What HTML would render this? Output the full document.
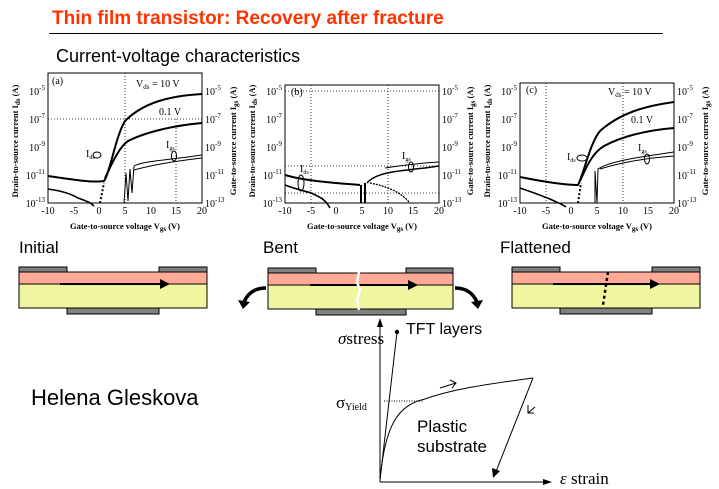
<!DOCTYPE html>
<html><head><meta charset="utf-8"><style>
html,body{margin:0;padding:0;background:#fff;}
svg{display:block;}
.t{font-family:"Liberation Serif",serif;font-size:10px;}
.ax{font-family:"Liberation Serif",serif;font-size:8.5px;font-weight:bold;}
.s{font-family:"Liberation Sans",sans-serif;}
</style></head><body>
<svg width="719" height="489" viewBox="0 0 719 489" xmlns="http://www.w3.org/2000/svg">
<defs>
<g id="ticks">
  <g class="t" text-anchor="end">
    <text x="-3" y="134">10<tspan dy="-5" font-size="7">-13</tspan></text>
    <text x="-3" y="106">10<tspan dy="-5" font-size="7">-11</tspan></text>
    <text x="-3" y="78">10<tspan dy="-5" font-size="7">-9</tspan></text>
    <text x="-3" y="50">10<tspan dy="-5" font-size="7">-7</tspan></text>
    <text x="-3" y="22">10<tspan dy="-5" font-size="7">-5</tspan></text>
  </g>
  <g class="t">
    <text x="157" y="134">10<tspan dy="-5" font-size="7">-13</tspan></text>
    <text x="157" y="106">10<tspan dy="-5" font-size="7">-11</tspan></text>
    <text x="157" y="78">10<tspan dy="-5" font-size="7">-9</tspan></text>
    <text x="157" y="50">10<tspan dy="-5" font-size="7">-7</tspan></text>
    <text x="157" y="22">10<tspan dy="-5" font-size="7">-5</tspan></text>
  </g>
  <g class="t" text-anchor="middle">
    <text x="0" y="141">-10</text><text x="26" y="141">-5</text><text x="51" y="141">0</text>
    <text x="77" y="141">5</text><text x="103" y="141">10</text><text x="128" y="141">15</text><text x="154" y="141">20</text>
  </g>
  <text class="ax" x="77" y="156" text-anchor="middle">Gate-to-source voltage  V<tspan font-size="7" dy="2">gs</tspan><tspan dy="-2"> (V)</tspan></text>
  <text class="ax" transform="translate(-30,68) rotate(-90)" text-anchor="middle">Drain-to-source current  I<tspan font-size="7" dy="2">ds</tspan><tspan dy="-2"> (A)</tspan></text>
  <text class="ax" transform="translate(188,68) rotate(-90)" text-anchor="middle">Gate-to-source current  I<tspan font-size="7" dy="2">gs</tspan><tspan dy="-2"> (A)</tspan></text>
</g>
</defs>

<!-- Title -->
<text x="52" y="24" class="s" font-size="19" font-weight="bold" fill="#ff3300">Thin film transistor: Recovery after fracture</text>
<line x1="49" y1="33.5" x2="663" y2="33.5" stroke="#000" stroke-width="1"/>
<text x="56" y="62" class="s" font-size="18">Current-voltage characteristics</text>

<!-- Plot a -->
<g transform="translate(48,73)">
  <rect x="0" y="0" width="154" height="130" fill="none" stroke="#000" stroke-width="1"/>
  <g stroke="#000" stroke-dasharray="1,2" stroke-width="0.8">
    <line x1="77" y1="0" x2="77" y2="130"/><line x1="128" y1="46" x2="128" y2="130"/><line x1="0" y1="46" x2="154" y2="46"/>
  </g>
  <use href="#ticks"/>
  <text class="t" x="4" y="11">(a)</text>
  <text class="t" x="88" y="14">V<tspan font-size="7" dy="2">ds</tspan><tspan dy="-2"> = 10 V</tspan></text>
  <text class="t" x="111" y="42">0.1 V</text>
  <g fill="none" stroke="#000" stroke-width="2">
    <path d="M0,103 C20,106 45,110 56,108 C62,100 68,62 77,48 C95,30 120,23 154,21"/>
    <path d="M57,105 C62,95 70,75 80,68 C100,58 130,52 154,50"/>
    <path d="M0,116 C15,118 25,122 30,125 C38,128 42,129 46,133" stroke-width="1.6"/>
    <path d="M52,130 L56,110" stroke-dasharray="2,2"/>
  </g>
  <g fill="none" stroke="#000" stroke-width="1">
    <path d="M76,130 L78,100 L80,128 L82,96 L84,120 L86,93 C95,88 120,87 154,82"/>
    <path d="M86,97 C100,93 120,89 154,85"/>
    <ellipse cx="49" cy="82" rx="4" ry="3"/><ellipse cx="126" cy="83" rx="2.5" ry="5"/>
  </g>
  <text class="t" x="38" y="84" font-size="9">I<tspan font-size="6" dy="2">ds</tspan></text>
  <text class="t" x="118" y="75" font-size="9">I<tspan font-size="6" dy="2">gs</tspan></text>
</g>

<!-- Plot b -->
<g transform="translate(285,73)">
  <rect x="0" y="12" width="154" height="118" fill="none" stroke="#000" stroke-width="1"/>
  <g stroke="#000" stroke-dasharray="1,2" stroke-width="0.8">
    <line x1="26" y1="12" x2="26" y2="130"/><line x1="103" y1="12" x2="103" y2="130"/>
    <line x1="0" y1="18" x2="154" y2="18"/><line x1="0" y1="93" x2="154" y2="93"/><line x1="0" y1="120" x2="154" y2="120"/>
  </g>
  <use href="#ticks"/>
  <text class="t" x="6" y="22">(b)</text>
  <g fill="none" stroke="#000" stroke-width="2">
    <path d="M0,102 C20,108 50,110 75,112"/>
    <path d="M0,112 C10,116 20,118 26,120 C35,124 40,126 45,135" stroke-width="1.6"/>
    <path d="M76,130 L76,112 M80,130 L80,110"/>
    <path d="M82,110 C90,100 110,98 140,95 L154,93" stroke-width="1.5"/>
    <path d="M85,110 C100,113 115,118 125,130" stroke-width="1.3" stroke-dasharray="2,1"/>
  </g>
  <g fill="none" stroke="#000" stroke-width="1">
    <path d="M100,95 C120,92 135,90 154,89"/>
    <ellipse cx="16" cy="110" rx="3" ry="8"/><ellipse cx="126" cy="94" rx="2.5" ry="5"/>
  </g>
  <text class="t" x="15" y="99" font-size="9">I<tspan font-size="6" dy="2">ds</tspan></text>
  <text class="t" x="117" y="86" font-size="9">I<tspan font-size="6" dy="2">gs</tspan></text>
</g>

<!-- Plot c -->
<g transform="translate(520,73)">
  <rect x="0" y="10" width="154" height="120" fill="none" stroke="#000" stroke-width="1"/>
  <g stroke="#000" stroke-dasharray="1,2" stroke-width="0.8">
    <line x1="26" y1="10" x2="26" y2="130"/><line x1="103" y1="10" x2="103" y2="130"/>
  </g>
  <use href="#ticks"/>
  <text class="t" x="6" y="20">(c)</text>
  <text class="t" x="88" y="22">V<tspan font-size="7" dy="2">ds</tspan><tspan dy="-2"> = 10 V</tspan></text>
  <text class="t" x="111" y="50">0.1 V</text>
  <g fill="none" stroke="#000" stroke-width="2">
    <path d="M0,104 C20,108 45,112 58,112 C64,100 70,70 80,58 C100,40 125,33 154,29"/>
    <path d="M60,108 C66,95 72,80 84,73 C105,62 130,57 154,55"/>
    <path d="M0,115 C15,120 25,124 30,126 C38,130 42,131 46,134" stroke-width="1.6"/>
    <path d="M58,130 L61,110" stroke-dasharray="2,2"/>
  </g>
  <g fill="none" stroke="#000" stroke-width="1">
    <path d="M75,130 L75,98 L77,130 L78,96 C90,88 120,84 154,79"/>
    <path d="M80,96 C100,90 125,85 154,83"/>
    <ellipse cx="62" cy="85" rx="5" ry="3"/><ellipse cx="127" cy="86" rx="2.5" ry="5"/>
  </g>
  <text class="t" x="47" y="87" font-size="9">I<tspan font-size="6" dy="2">ds</tspan></text>
  <text class="t" x="118" y="78" font-size="9">I<tspan font-size="6" dy="2">gs</tspan></text>
</g>

<!-- Labels -->
<text x="19" y="253" class="s" font-size="17">Initial</text>
<text x="263" y="253" class="s" font-size="17">Bent</text>
<text x="500" y="253" class="s" font-size="17">Flattened</text>

<!-- Initial device -->
<g stroke="#000" stroke-width="1">
  <rect x="19" y="267" width="48" height="5" fill="#808080"/>
  <rect x="159" y="267" width="48" height="5" fill="#808080"/>
  <rect x="19" y="272" width="188" height="12" fill="#ffaa99"/>
  <rect x="19" y="284" width="188" height="24" fill="#f0f5a0"/>
  <rect x="67" y="308" width="92" height="6" fill="#808080"/>
</g>
<line x1="60" y1="284" x2="162" y2="284" stroke="#000" stroke-width="2"/>
<polygon points="160,279 170,284 160,289" fill="#000"/>

<!-- Bent device -->
<g stroke="#000" stroke-width="1">
  <rect x="268" y="268" width="48" height="5" fill="#808080"/>
  <rect x="406" y="268" width="47" height="5" fill="#808080"/>
  <rect x="268" y="273" width="185" height="12" fill="#ffaa99"/>
  <rect x="268" y="285" width="185" height="24" fill="#f0f5a0"/>
  <rect x="316" y="309" width="90" height="6" fill="#808080"/>
</g>
<line x1="310" y1="285" x2="410" y2="285" stroke="#000" stroke-width="2"/>
<polygon points="408,280 418,285 408,290" fill="#000"/>
<path d="M359,272 L357,282 L360,290 L357,300 L359,310" stroke="#fff" stroke-width="2.5" fill="none"/>
<path d="M266,288 C255,288 248,293 244,302" stroke="#000" stroke-width="3.5" fill="none"/>
<polygon points="238,300 243,309 250,302" fill="#000"/>
<path d="M455,288 C466,288 473,293 477,302" stroke="#000" stroke-width="3.5" fill="none"/>
<polygon points="471,302 478,309 483,300" fill="#000"/>

<!-- Flattened device -->
<g stroke="#000" stroke-width="1">
  <rect x="512" y="267" width="48" height="5" fill="#808080"/>
  <rect x="652" y="267" width="48" height="5" fill="#808080"/>
  <rect x="512" y="272" width="188" height="12" fill="#ffaa99"/>
  <rect x="512" y="284" width="188" height="24" fill="#f0f5a0"/>
  <rect x="560" y="308" width="92" height="6" fill="#808080"/>
</g>
<line x1="553" y1="284" x2="652" y2="284" stroke="#000" stroke-width="2"/>
<polygon points="650,279 660,284 650,289" fill="#000"/>
<line x1="608" y1="272" x2="603" y2="305" stroke="#000" stroke-width="2.5" stroke-dasharray="3,3"/>

<!-- Helena -->
<text x="31" y="405" class="s" font-size="22">Helena Gleskova</text>

<!-- stress-strain -->
<g stroke="#000" stroke-width="1" fill="none">
  <line x1="380" y1="482" x2="380" y2="324"/>
  <line x1="380" y1="482" x2="545" y2="482"/>
  <line x1="380" y1="480" x2="397" y2="332"/>
  <line x1="384" y1="401" x2="423" y2="401" stroke-dasharray="1,1.5"/>
  <path d="M380,480 C385,425 398,405 425,399 C450,390 480,385 533,378"/>
  <line x1="533" y1="378" x2="495" y2="474"/>
  <path d="M440,388 L456,383 M450,380 L456,383 L452,388"/>
  <path d="M535,407 L528,413 M528,405 L528,413 L534,413"/>
</g>
<polygon points="380,318 377,327 383,327" fill="#000"/>
<polygon points="552,482 543,479 543,485" fill="#000"/>
<polygon points="493,478 492,468 500,471" fill="#000"/>
<circle cx="397" cy="332" r="2.2" fill="#000"/>
<text x="406" y="334" class="s" font-size="16">TFT layers</text>
<text x="338" y="344" font-family="Liberation Serif,serif" font-size="17"><tspan font-style="italic">σ</tspan>stress</text>
<text x="336" y="408" font-family="Liberation Serif,serif" font-size="17">σ<tspan font-size="10" dy="2">Yield</tspan></text>
<text x="417" y="432" class="s" font-size="17">Plastic</text>
<text x="417" y="452" class="s" font-size="17">substrate</text>
<text x="560" y="484" font-family="Liberation Serif,serif" font-size="17"><tspan font-style="italic">ε</tspan> strain</text>
</svg>
</body></html>
